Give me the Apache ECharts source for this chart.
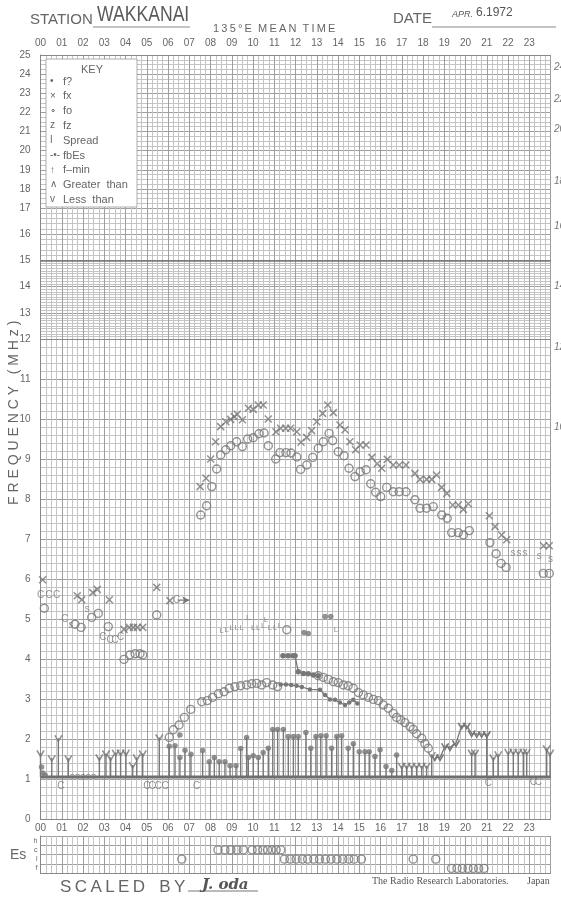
<!DOCTYPE html>
<html><head><meta charset="utf-8">
<script src="https://cdn.jsdelivr.net/npm/echarts@6.0.0/dist/echarts.min.js"></script>
<style>html,body{margin:0;padding:0;background:#fff}#c{width:561px;height:899px}</style>
</head><body><div id="c"></div>
<script>
// ---------- data (hour of day, MHz) ----------
const hourLabels = ['00','01','02','03','04','05','06','07','08','09','10','11','12','13','14','15','16','17','18','19','20','21','22','23'];
const esRows = ['f','l','c','h'];
const rightScaleLabels = ['24','22','20','18','16','14','12','10'];

const foTrace = [[0.18,5.27],[1.62,4.87],[1.91,4.79],[2.41,5.04],[2.72,5.14],[3.19,4.81],[3.93,3.99],[4.21,4.1],[4.45,4.13],[4.68,4.13],[4.81,4.1],[5.47,5.1],
 [7.54,7.6],[7.82,7.83],[8.06,8.31],[8.29,8.75],[8.48,9.1],[8.72,9.23],[8.95,9.33],[9.23,9.43],[9.5,9.31],[9.75,9.5],[10.01,9.53],[10.28,9.63],[10.52,9.65],[10.72,9.33],
 [11.07,9.0],[11.27,9.16],[11.55,9.16],[11.79,9.15],[12.06,9.05],[12.24,8.74],[12.53,8.85],[12.81,9.04],[13.07,9.27],[13.31,9.43],[13.58,9.64],[13.75,9.46],[14.01,9.18],
 [14.28,9.08],[14.52,8.77],[14.8,8.56],[15.04,8.68],[15.32,8.73],[15.54,8.38],[15.77,8.17],[16.01,8.06],[16.29,8.29],[16.6,8.18],[16.88,8.18],[17.2,8.18],[17.62,7.98],
 [17.86,7.77],[18.17,7.77],[18.48,7.81],[18.88,7.6],[19.14,7.52],[19.35,7.16],[19.66,7.16],[19.9,7.1],[20.18,7.21],[21.15,6.91],[21.44,6.63],[21.67,6.39],[21.91,6.29],
 [23.66,6.14],[23.94,6.14],[11.59,4.73]];
const fxTrace = [[0.1,5.98],[1.73,5.58],[1.94,5.48],[2.46,5.66],[2.67,5.74],[3.24,5.48],[3.93,4.74],[4.18,4.79],[4.37,4.79],[4.56,4.79],[4.81,4.79],[5.47,5.79],[6.09,5.46],
 [7.51,8.31],[7.79,8.52],[8.01,9.0],[8.24,9.43],[8.48,9.81],[8.72,9.93],[8.95,9.99],[9.12,10.06],[9.26,10.12],[9.5,9.98],[9.78,10.27],[10.01,10.24],[10.25,10.35],[10.48,10.35],
 [10.72,10.0],[11.08,9.68],[11.3,9.77],[11.54,9.77],[11.77,9.77],[12.06,9.68],[12.26,9.42],[12.53,9.54],[12.76,9.71],[13.0,9.93],[13.28,10.14],[13.52,10.35],[13.78,10.16],
 [14.09,9.85],[14.33,9.73],[14.56,9.43],[14.83,9.23],[15.04,9.35],[15.32,9.35],[15.59,9.04],[15.85,8.88],[16.06,8.77],[16.32,8.99],[16.6,8.85],[16.88,8.85],[17.2,8.85],
 [17.62,8.64],[17.86,8.49],[18.17,8.49],[18.41,8.49],[18.64,8.6],[18.88,8.29],[19.12,8.14],[19.4,7.85],[19.66,7.85],[19.9,7.74],[20.13,7.88],[21.12,7.58],[21.39,7.31],
 [21.7,7.1],[21.94,6.98],[23.67,6.83],[23.94,6.83]];
const cGlyphs = [[0.0,5.6],[0.41,5.6],[0.76,5.6],[1.15,4.99],[2.93,4.54],[3.27,4.48],[3.51,4.48],[3.77,4.54],[6.41,5.46],
 [0.96,0.81],[5.0,0.81],[5.25,0.81],[5.53,0.81],[5.86,0.81],[7.35,0.81],[21.07,0.89],[23.19,0.91],[23.43,0.91]];
const sGlyphs = [[1.44,4.85],[2.2,5.24],[22.24,6.65],[22.52,6.65],[22.8,6.65],[23.47,6.58],[24.0,6.5]];
const lGlyphs = [[8.53,4.71],[8.76,4.74],[9.0,4.79],[9.23,4.79],[9.47,4.79],[9.78,5.02],[10.01,4.77],[10.25,4.79],[10.48,4.83],[10.61,4.98],[10.8,4.79],[11.04,4.79],[11.27,4.83],[12.06,5.02],[13.91,4.74]];
const blobs = [[12.4,4.66],[12.6,4.64],[13.39,5.06],[13.66,5.06],[6.56,2.1],[0.05,1.3],[0.1,1.15],[0.22,1.1]];
const smallRings = [[1.5,1.07],[1.75,1.07],[2.0,1.07],[2.25,1.07],[2.5,1.07]];
const arrowRun = [[6.45,5.47],[7.0,5.47]];
const lowLayer = [[6.06,2.04],[6.25,2.23],[6.52,2.35],[6.77,2.54],[7.07,2.74],[7.59,2.93],[7.85,2.96],[8.1,3.04],[8.37,3.13],[8.64,3.18],[8.88,3.27],[9.15,3.31],[9.42,3.33],
 [9.7,3.35],[9.94,3.38],[10.17,3.39],[10.41,3.35],[10.64,3.41],[10.93,3.35],[11.16,3.31],[13.07,3.58],[13.31,3.54],[13.54,3.49],[13.78,3.43],[14.01,3.41],[14.25,3.35],
 [14.48,3.33],[14.72,3.27],[14.96,3.16],[15.19,3.1],[15.43,3.04],[15.66,2.99],[15.9,2.96],[16.13,2.85],[16.37,2.77],[16.6,2.64],[16.76,2.54],[16.95,2.48],[17.15,2.41],
 [17.39,2.31],[17.54,2.24],[17.7,2.13],[17.94,2.02],[18.09,1.88],[18.25,1.77]];
const dotTraceA = [[11.3,3.36],[11.55,3.36],[11.8,3.35],[12.05,3.33],[12.3,3.3],[12.68,3.24],[13.15,3.23],[13.39,3.1],[13.62,2.99],[13.86,2.98],[14.09,2.91],[14.33,2.85],[14.53,2.91],[14.72,2.98],[14.91,2.89]];
const dotTraceB = [[11.41,4.08],[11.65,4.08],[11.88,4.08],[11.98,4.08],[12.13,3.68],[12.37,3.64],[12.6,3.63],[12.84,3.6],[13.07,3.58]];
const eveningTrace = [[18.56,1.54],[18.8,1.54],[19.04,1.82],[19.27,1.79],[19.55,1.89],[19.82,2.33],[20.06,2.33],[20.29,2.14],[20.53,2.12],[20.76,2.12],[21.0,2.12]];
const baseLevel = 1.05;
const baseLine = [[0,1.05],[24,1.05]];
const stemV = [[0.0,1.64],[0.53,1.52],[0.84,2.02],[1.31,1.52],[2.77,1.54],[3.08,1.64],[3.3,1.54],[3.54,1.66],[3.77,1.66],[4.02,1.66],[4.34,1.35],[4.53,1.54],[4.81,1.64],[5.59,2.04],
 [17.0,1.33],[17.23,1.33],[17.47,1.33],[17.7,1.33],[17.94,1.33],[18.17,1.33],[18.41,1.6],[21.0,2.12],[20.29,1.66],[20.45,1.66],[21.31,1.54],[21.54,1.62],[22.01,1.68],[22.25,1.68],
 [22.48,1.68],[22.72,1.68],[22.88,1.68],[23.82,1.77],[23.98,1.66]];
const stemDot = [[6.06,1.82],[6.33,1.83],[6.56,1.54],[6.8,1.72],[7.08,1.62],[7.63,1.71],[7.94,1.43],[8.18,1.54],[8.41,1.43],[8.68,1.43],[8.92,1.33],[9.2,1.33],[9.42,1.76],
 [9.7,2.04],[9.78,1.54],[10.01,1.58],[10.25,1.54],[10.48,1.66],[10.72,1.77],[10.93,2.24],[11.16,2.24],[11.43,2.24],[11.66,2.06],[11.9,2.06],[12.13,2.06],[12.49,2.16],[12.72,1.77],
 [12.96,2.06],[13.19,2.08],[13.44,2.08],[13.7,1.77],[13.94,2.06],[14.17,2.08],[14.48,1.77],[14.72,1.88],[15.0,1.68],[15.27,1.68],[15.47,1.68],[15.74,1.56],[15.98,1.73],
 [16.26,1.31],[16.53,1.21],[16.76,1.6]];
const esRowC = [8.35,8.68,8.96,9.25,9.54,9.96,10.22,10.47,10.69,10.89,11.09,11.31];
const esRowL = [6.65,11.48,11.76,12.03,12.32,12.57,12.86,13.13,13.41,13.67,13.95,14.23,14.51,14.76,15.1,17.54,18.6];
const esRowF = [19.34,19.6,19.85,20.12,20.37,20.62,20.87];

// ---------- styling ----------
const INK = '#777777', TXT = '#666666', MAJ = '#9e9e9e', MIN = '#c4c4c4';
const FONT = 'Liberation Sans';
const L = 40.5, R = 10.5;
const bands = [
  {top:339, height:480, min:0, max:12, minor:5, hide:-1},
  {top:260.4, height:78.6, min:12, max:15, minor:10, hide:12},
  {top:208, height:52.4, min:15, max:17, minor:5, hide:15},
  {top:55, height:153, min:17, max:25, minor:4, hide:17}
];
const grids = bands.map(b => ({left:L, right:R, top:b.top, height:b.height, outerBoundsMode:'none'}));
grids.push({left:L, right:R, top:836, height:37, outerBoundsMode:'none'});

const xAxes = grids.map((g,i) => ({
  type:'value', gridIndex:i, min:0, max:24, interval:1,
  position: i===3 ? 'top' : 'bottom',
  axisLine:{show:true, onZero:false, lineStyle:{color:'#888', width:1}},
  axisTick:{show:false},
  axisLabel:{show: i===0 || i===3, color:TXT, fontSize:10, fontFamily:FONT, margin: i===3 ? 7 : 4,
    formatter: v => v < 24 ? hourLabels[v] : ''},
  splitLine:{show:true, lineStyle:{color:MAJ, width:1}},
  minorTick:{show:false, splitNumber:4},
  minorSplitLine:{show:true, lineStyle:{color:MIN, width:1}}
}));

const yAxes = bands.map((b,i) => ({
  type:'value', gridIndex:i, min:b.min, max:b.max, interval:1,
  axisLine:{show:true, lineStyle:{color:'#888'}},
  axisTick:{show:false},
  axisLabel:{color:TXT, fontSize:10, fontFamily:FONT, margin:10, formatter: v => v===b.hide ? '' : String(v)},
  splitLine:{show:true, lineStyle:{color: MAJ, width:1}},
  minorTick:{show:false, splitNumber:b.minor},
  minorSplitLine:{show:true, lineStyle:{color:MIN, width:1}}
}));
yAxes.push({type:'category', gridIndex:4, data:esRows, boundaryGap:true,
  axisLine:{show:true, lineStyle:{color:'#888'}}, axisTick:{show:false},
  axisLabel:{color:TXT, fontSize:7, fontFamily:FONT, margin:3},
  splitLine:{show:true, interval:0, lineStyle:{color:MAJ}}});

const xSym = 'path://M0,0L10,10M10,0L0,10';
const vSym = 'path://M0,0L5,10L10,0';
function sc(data, extra){ return Object.assign({type:'scatter', xAxisIndex:0, yAxisIndex:0, data, silent:true, z:4}, extra); }
function glyph(data, ch, size){ return sc(data, {symbol:'circle', symbolSize:1, itemStyle:{color:'rgba(0,0,0,0)'},
  label:{show:true, formatter:ch, position:'inside', color:INK, fontSize:size, fontFamily:FONT}}); }
const ring = {symbol:'circle', symbolSize:8, itemStyle:{color:'rgba(255,255,255,0)', borderColor:INK, borderWidth:1.4}};
const cross = {symbol:xSym, symbolSize:7, itemStyle:{color:'none', borderColor:INK, borderWidth:1.5}};
const vee = {symbol:vSym, symbolSize:[7,6], itemStyle:{color:'none', borderColor:INK, borderWidth:1.5}};
const dot = {symbol:'circle', symbolSize:5.5, itemStyle:{color:INK}};

function stems(data){ return {type:'custom', xAxisIndex:0, yAxisIndex:0, data, silent:true, z:3,
  renderItem:(p,api)=>{ const a=api.coord([api.value(0), baseLevel]); const b=api.coord([api.value(0), api.value(1)]);
    return {type:'line', shape:{x1:a[0],y1:a[1],x2:b[0],y2:b[1]}, style:{stroke:INK, lineWidth:1.4}}; }}; }
function trace(data, sym){ return Object.assign({type:'line', xAxisIndex:0, yAxisIndex:0, data, silent:true, z:4,
  lineStyle:{color:INK, width:1.3}, showSymbol:true}, sym); }

const series = [
  {type:'line', xAxisIndex:0, yAxisIndex:0, data:baseLine, symbol:'none', lineStyle:{color:'#6e6e6e', width:3}, silent:true, z:3},
  stems(stemV), stems(stemDot),
  sc(stemV, vee), sc(stemDot, dot),
  trace(eveningTrace, vee),
  trace(dotTraceA, {symbol:'circle', symbolSize:4.5, itemStyle:{color:INK}}),
  trace(dotTraceB, {symbol:'circle', symbolSize:5.5, itemStyle:{color:INK}}),
  sc(lowLayer, ring),
  sc(foTrace, ring),
  sc(fxTrace, cross),
  sc(blobs, {symbol:'circle', symbolSize:5.5, itemStyle:{color:INK}}),
  sc(smallRings, {symbol:'circle', symbolSize:4, itemStyle:{color:'rgba(255,255,255,0)', borderColor:INK, borderWidth:1}}),
  glyph(cGlyphs, 'C', 10), glyph(sGlyphs, 's', 10), glyph(lGlyphs, 'L', 8),
  {type:'line', xAxisIndex:0, yAxisIndex:0, silent:true, z:4, lineStyle:{color:INK, width:1.2},
    data:[{value:arrowRun[0], symbol:'none'},{value:arrowRun[1], symbol:'arrow', symbolSize:[6,7], symbolRotate:-90}], itemStyle:{color:INK}},
  Object.assign({type:'scatter', xAxisIndex:4, yAxisIndex:4, silent:true, data: esRowC.map(t=>[t,'c'])}, ring),
  Object.assign({type:'scatter', xAxisIndex:4, yAxisIndex:4, silent:true, data: esRowL.map(t=>[t,'l'])}, ring),
  Object.assign({type:'scatter', xAxisIndex:4, yAxisIndex:4, silent:true, data: esRowF.map(t=>[t,'f'])}, ring),
  {type:'line', xAxisIndex:2, yAxisIndex:2, data:[], markLine:{silent:true, symbol:'none', label:{show:false},
    lineStyle:{color:'#7a7a7a', width:1.6, type:'solid'}, data:[{yAxis:15}]}}
];

// ---------- static texts ----------
const T = (x,y,text,o) => Object.assign({type:'text', x, y, z:100, style:Object.assign({text, fill:TXT, font:'13px '+FONT}, o||{})});
const th = '\u2009';
const spaced = s => s.split('').join(th);
const keyItems = [['•','f?'],['×','fx'],['∘','fo'],['z','fz'],['ǀ','Spread'],['-•-','fbEs'],['↑','f–min'],['∧','Greater  than'],['v','Less  than']];
const graphics = [
  T(30,12,'STATION',{font:'15px '+FONT}),
  {type:'text', x:97, y:4, z:100, scaleX:0.8, style:{text:'WAKKANAI', fill:'#5a5a5a', font:'22px '+FONT}},
  {type:'line', z:100, shape:{x1:93,y1:27,x2:190,y2:27}, style:{stroke:'#888', lineWidth:1}},
  T(213,23,spaced('135°E')+'  '+spaced('MEAN')+'  '+spaced('TIME'),{font:'11px '+FONT}),
  T(393,11,'DATE',{font:'15px '+FONT}),
  {type:'line', z:100, shape:{x1:432,y1:27,x2:556,y2:27}, style:{stroke:'#888', lineWidth:1}},
  T(452,10,'APR.',{font:'italic 9px '+FONT, fill:'#555'}),
  T(476,7,'6.1972',{font:'12px '+FONT, fill:'#555'}),
  {type:'rect', z:99, shape:{x:46,y:59,width:91,height:148}, style:{fill:'#fff', stroke:'#9a9a9a', lineWidth:0.8}},
  T(81,64,'KEY',{font:'11px '+FONT}),
  {type:'text', z:100, rotation:Math.PI/2, x:7, y:505, style:{text:'F R E Q U E N C Y   ( M H z )', fill:TXT, font:'14px '+FONT}},
  T(10,848,'Es',{font:'14px '+FONT}),
  T(60,879,spaced('SCALED')+'   '+spaced('BY'),{font:'17px '+FONT}),
  {type:'line', z:100, shape:{x1:188,y1:891,x2:258,y2:891}, style:{stroke:'#777', lineWidth:1}},
  T(202,878,'J. oda',{font:'italic bold 15px "DejaVu Serif"', fill:'#555'}),
  T(372,876,'The Radio Research Laboratories.',{font:'10px "Liberation Serif"', fill:'#555'}),
  T(527,876,'Japan',{font:'10px "Liberation Serif"', fill:'#555'})
];
keyItems.forEach((k,i)=>{ const y = 76 + i*14.8; graphics.push(T(50,y,k[0],{font:'10px '+FONT})); graphics.push(T(63,y,k[1],{font:'11px '+FONT})); });
const rightY = [62,94,124,176,221,281,342,422];
rightScaleLabels.forEach((s,i)=>graphics.push(T(554,rightY[i],s,{font:'italic 10px '+FONT, fill:'#777'})));

const chart = echarts.init(document.getElementById('c'), null, {renderer:'canvas'});
chart.setOption({animation:false, backgroundColor:'#fff', grid:grids, xAxis:xAxes, yAxis:yAxes, series, graphic:graphics});
</script></body></html>
